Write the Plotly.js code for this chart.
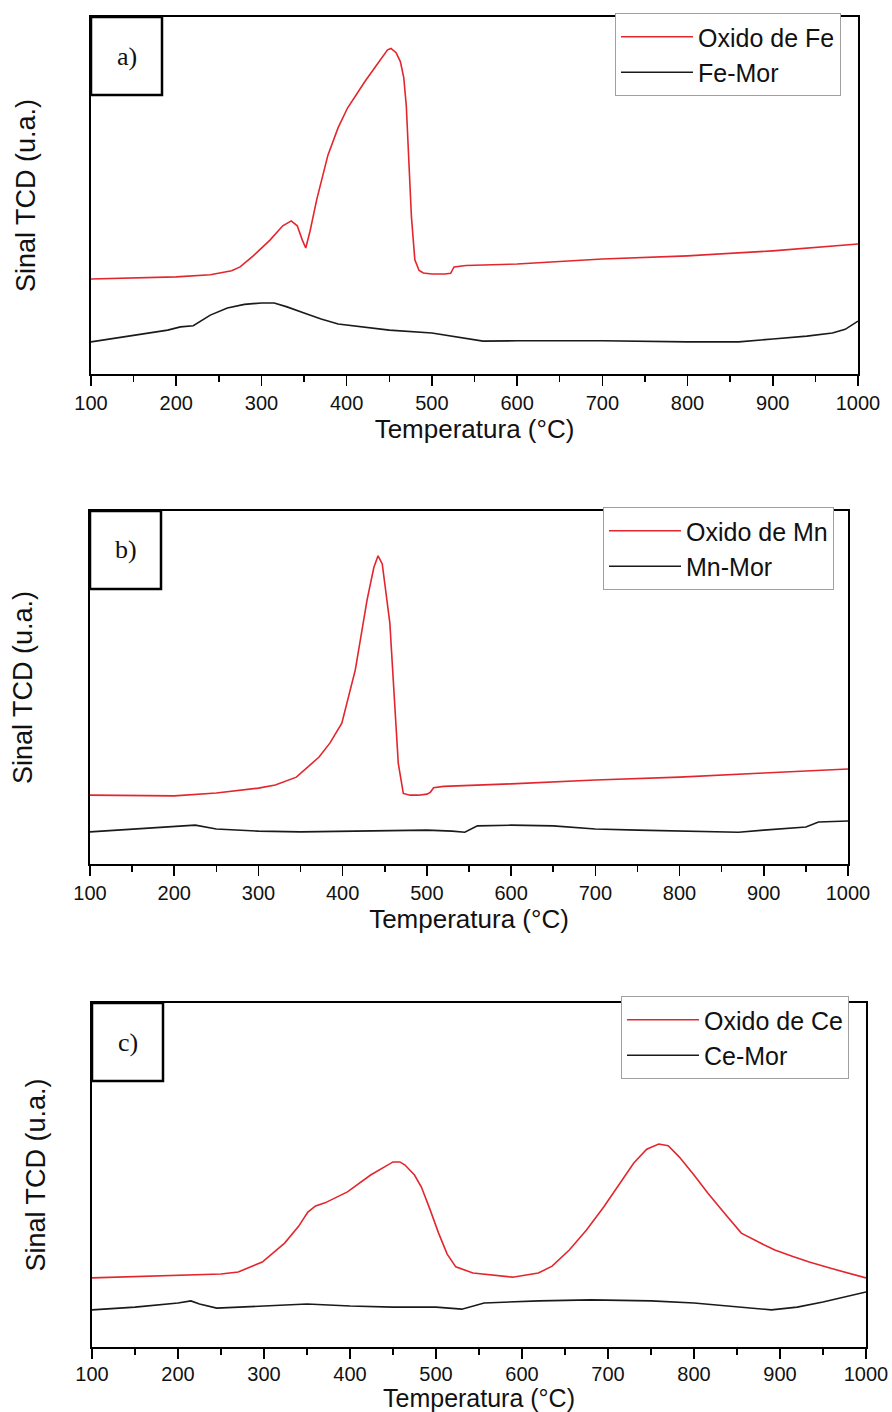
<!DOCTYPE html>
<html>
<head>
<meta charset="utf-8">
<script src="https://cdn.plot.ly/plotly-3.0.1.min.js"></script>
<style>html,body{margin:0;padding:0;background:#fff;}#chart{width:892px;height:1412px;}</style>
</head>
<body>
<div id="chart"></div>
<script>
// Panel a) Fe
const feOxidoT = [100,150,200,240,265,275,290,310,325,335,342,348,352,357,365,378,390,401,412,421,435,448,452,458,463,467,470,473,476,480,485,490,500,515,522,526,540,600,700,800,900,1000];
const feOxidoY = [26.6,26.9,27.2,27.8,28.9,30.0,33.0,37.5,41.5,42.9,41.5,37.5,35.3,40.0,49.0,61.3,69.0,74.5,78.5,81.8,86.5,90.8,91.2,90.0,87.5,83.0,75.0,58.0,44.0,32.0,29.0,28.3,28.0,28.0,28.2,30.0,30.4,30.8,32.2,33.1,34.5,36.4];
const feMorT = [100,150,190,205,220,240,260,280,300,315,330,350,370,390,420,450,500,540,560,600,700,800,860,900,940,970,985,1000];
const feMorY = [9.0,10.9,12.3,13.2,13.5,16.5,18.5,19.5,19.9,19.9,18.8,17.1,15.4,14.0,13.2,12.3,11.5,10.1,9.2,9.3,9.3,9.0,9.0,9.8,10.6,11.5,12.5,14.8];

// Panel b) Mn
const mnOxidoT = [100,150,200,250,300,320,345,372,385,399,415,429,437,442,447,456,466,472,480,490,500,504,508,520,600,700,800,900,1000];
const mnOxidoY = [19.5,19.5,19.3,20.1,21.5,22.4,24.6,30.3,34.3,39.9,55.0,74.8,84.0,87.3,85.0,68.3,28.6,20.0,19.5,19.5,19.8,20.3,21.6,22.0,22.7,23.8,24.6,25.8,26.9];
const mnMorT = [100,150,200,225,250,300,350,400,450,500,530,545,560,600,650,700,750,800,850,870,900,950,965,1000];
const mnMorY = [9.1,9.9,10.5,11.0,9.9,9.3,9.1,9.3,9.3,9.6,9.3,9.0,10.8,11.0,10.8,9.9,9.6,9.3,9.1,9.0,9.6,10.5,11.9,12.2];

// Panel c) Ce
const ceOxidoT = [100,150,200,250,270,298,324,340,351,360,371,397,424,450,458,464,475,483,493,503,513,523,543,570,589,619,635,655,675,695,712,730,745,759,770,783,800,816,835,855,875,894,915,934,960,1000];
const ceOxidoY = [20.1,20.5,20.9,21.2,21.8,24.7,30.2,35.0,39.2,41.0,41.9,45.1,50.0,53.8,53.8,52.9,50.0,46.5,40.0,33.1,27.0,23.3,21.5,20.7,20.3,21.5,23.5,28.2,34.0,40.7,47.0,53.5,57.5,59.0,58.5,55.2,50.0,44.8,39.0,33.1,30.5,28.2,26.3,24.7,22.8,20.1];
const ceMorT = [100,150,200,215,225,245,300,350,400,450,500,530,556,620,680,750,800,850,890,920,950,1000];
const ceMorY = [10.8,11.6,12.8,13.4,12.5,11.3,11.9,12.5,11.9,11.6,11.6,11.0,12.8,13.4,13.7,13.4,12.8,11.6,10.8,11.6,13.1,16.0];

const xTicks = [100,200,300,400,500,600,700,800,900,1000];
const seriesNames = [["Oxido de Fe","Fe-Mor"],["Oxido de Mn","Mn-Mor"],["Oxido de Ce","Ce-Mor"]];
const panelLabels = ["a)","b)","c)"];
const xTitle = "Temperatura (°C)";
const yTitle = "Sinal TCD (u.a.)";

const RED = "#e3262d", BLACK = "#1a1a1a";
const W = 892, H = 1412;
const SANS = "Liberation Sans, Arial, sans-serif";

// pixel frames of each panel [left, right, top, bottom]
const frames = [[91,858,17,374],[90,848,511,864],[92,866,1003,1347]];
const legendPos = [[615,13],[603,507],[621,996]];
const ytitleStandoff = [46,48,37];
const xtitleFont = [26,26,25];
const tickStandoff = [0,0,-2];

const data = [];
const pairs = [[feOxidoT,feOxidoY,feMorT,feMorY],[mnOxidoT,mnOxidoY,mnMorT,mnMorY],[ceOxidoT,ceOxidoY,ceMorT,ceMorY]];
const layout = {
  width: W, height: H,
  margin: {l:0,r:0,t:0,b:0},
  paper_bgcolor: "#fff", plot_bgcolor: "#fff",
  font: {family: SANS, color: "#111"},
  shapes: [], annotations: []
};
pairs.forEach((p, i) => {
  const sfx = i === 0 ? "" : String(i+1);
  const legName = "legend" + sfx;
  data.push({x: p[0], y: p[1], type: "scatter", mode: "lines", name: seriesNames[i][0],
    line: {color: RED, width: 1.6}, xaxis: "x"+sfx, yaxis: "y"+sfx, legend: legName});
  data.push({x: p[2], y: p[3], type: "scatter", mode: "lines", name: seriesNames[i][1],
    line: {color: BLACK, width: 1.6}, xaxis: "x"+sfx, yaxis: "y"+sfx, legend: legName});
  const f = frames[i];
  layout["xaxis"+sfx] = {
    domain: [f[0]/W, f[1]/W], anchor: "y"+sfx, range: [100,1000],
    tickvals: xTicks, ticks: "outside", ticklen: 10, tickwidth: 1.5, tickcolor: "#000",
    ticklabelstandoff: tickStandoff[i],
    minor: {dtick: 50, tick0: 100, ticks: "outside", ticklen: 6, tickwidth: 1.5, tickcolor: "#000", showgrid: false},
    showline: true, linecolor: "#000", linewidth: 2, mirror: true, showgrid: false, zeroline: false,
    tickfont: {size: 20, family: SANS, color: "#111"},
    title: {text: xTitle, font: {size: xtitleFont[i], family: SANS, color: "#111"}, standoff: 0}
  };
  layout["yaxis"+sfx] = {
    domain: [1 - f[3]/H, 1 - f[2]/H], anchor: "x"+sfx, range: [0,100],
    showticklabels: false, ticks: "", showline: true, linecolor: "#000", linewidth: 2, mirror: true,
    showgrid: false, zeroline: false,
    title: {text: yTitle, font: {size: 27, family: SANS, color: "#111"}, standoff: ytitleStandoff[i]}
  };
  layout[legName] = {
    x: legendPos[i][0]/W, y: 1 - legendPos[i][1]/H, xanchor: "left", yanchor: "top",
    bgcolor: "#fff", bordercolor: "#a0a0a0", borderwidth: 1,
    font: {size: 25, family: SANS, color: "#111"}, itemwidth: 72, tracegroupgap: 0
  };
  const bw = 71/(f[1]-f[0]), bh = 78/(f[3]-f[2]);
  layout.shapes.push({type: "rect", xref: "x"+sfx+" domain", yref: "y"+sfx+" domain",
    x0: 0, x1: bw, y0: 1-bh, y1: 1, line: {color: "#000", width: 2.5}, fillcolor: "rgba(255,255,255,0)"});
  layout.annotations.push({text: panelLabels[i], xref: "x"+sfx+" domain", yref: "y"+sfx+" domain",
    x: bw/2, y: 1-bh/2, showarrow: false, xanchor: "center", yanchor: "middle",
    font: {family: "Liberation Serif, Times New Roman, serif", size: 26, color: "#111"}});
});
Plotly.newPlot("chart", data, layout, {staticPlot: true, displayModeBar: false});
</script>
</body>
</html>
